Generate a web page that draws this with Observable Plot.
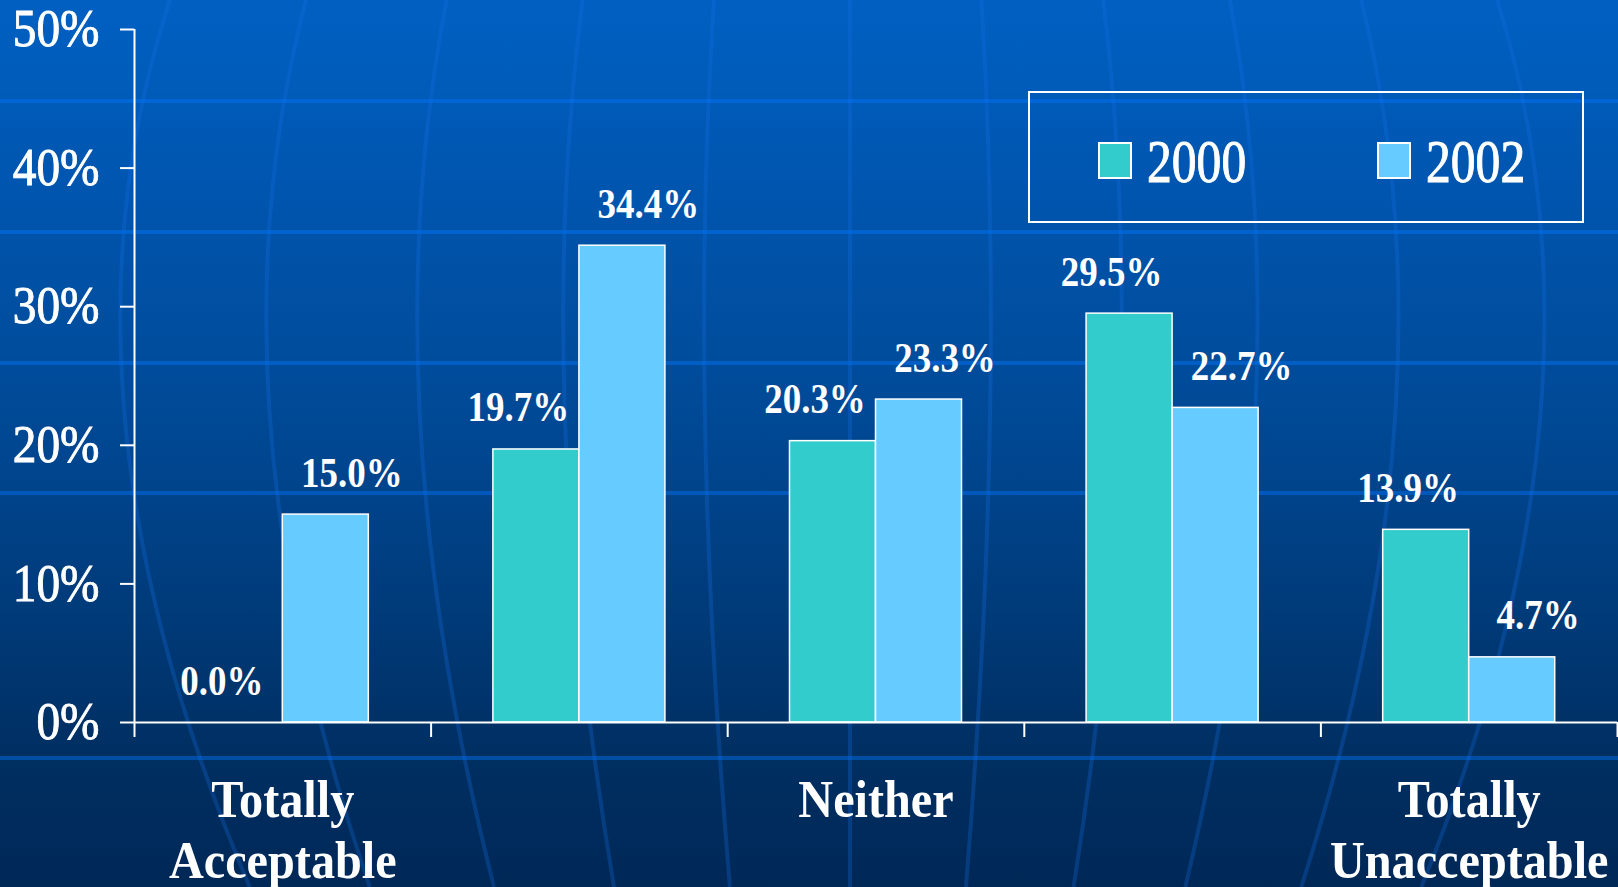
<!DOCTYPE html>
<html>
<head>
<meta charset="utf-8">
<script src="https://cdn.jsdelivr.net/npm/d3@7"></script>
<script src="https://cdn.jsdelivr.net/npm/@observablehq/plot@0.6"></script>
<style>
  html, body { margin: 0; padding: 0; }
  body {
    width: 1618px; height: 887px; overflow: hidden; position: relative;
    background: linear-gradient(to bottom, #0060c2 0%, #0056b0 20%, #004a98 45%, #003a78 70%, #002f62 85%, #002857 100%);
    font-family: "Liberation Serif", "Times New Roman", serif;
  }
  #deco, #chart, #legend { position: absolute; left: 0; top: 0; }
</style>
</head>
<body>
<div id="deco"></div>
<div id="chart"></div>
<div id="legend"></div>
<script>
// ---- data ----
const categories = ["Totally\nAcceptable", "", "Neither", "", "Totally\nUnacceptable"];
const years = ["2000", "2002"];
const values2000 = [0.0, 19.7, 20.3, 29.5, 13.9];
const values2002 = [15.0, 34.4, 23.3, 22.7, 4.7];
const yTicks = [0, 10, 20, 30, 40, 50];
const colors = ["#33CCCC", "#66CCFF"];

const rows = [];
categories.forEach((c, i) => {
  rows.push({i, year: years[0], value: values2000[i]});
  rows.push({i, year: years[1], value: values2002[i]});
});

// ---- background decoration (globe-like lines) ----
(function () {
  const W = 1618, H = 887;
  const hLines = [101, 232, 363, 493, 758];
  const mids = [125, 270, 420, 565, 705, 850, 990, 1120, 1255, 1395, 1540];
  const c = 850;
  let s = `<svg xmlns="http://www.w3.org/2000/svg" width="${W}" height="${H}">`;
  for (const m of mids) {
    const x0 = m - (m - c) * 0.062, x2 = m - (m - c) * 0.172;
    const cx = 2 * m - 0.5 * (x0 + x2);
    s += `<path d="M${x0},0 Q${cx},396 ${x2},${H}" fill="none" stroke="rgba(20,110,230,0.28)" stroke-width="4"/>`;
  }
  for (const y of hLines) {
    s += `<line x1="0" x2="${W}" y1="${y}" y2="${y}" stroke="rgba(0,120,255,0.42)" stroke-width="4"/>`;
  }
  s += `</svg>`;
  document.getElementById("deco").innerHTML = s;
})();

// ---- chart ----
const hw = 0.29; // half of a group's bar span, as a fraction of a category
const plot = Plot.plot({
  width: 1618,
  height: 887,
  marginLeft: 134,
  marginRight: 1,
  marginTop: 29,
  marginBottom: 165,
  style: {background: "transparent", color: "white", fontFamily: "'Liberation Serif', serif", overflow: "visible"},
  x: {domain: [0, categories.length], axis: null},
  y: {domain: [0, 50], axis: null},
  color: {domain: years, range: colors},
  marks: [
    Plot.rectY(rows, {
      x1: d => d.year === years[0] ? d.i + 0.5 - hw : d.i + 0.5,
      x2: d => d.year === years[0] ? d.i + 0.5 : d.i + 0.5 + hw,
      y: "value", fill: "year", stroke: "white", strokeWidth: 1.5
    }),
    Plot.ruleX([0], {stroke: "white", strokeWidth: 2}),
    Plot.ruleY([0], {stroke: "white", strokeWidth: 2}),
    Plot.axisY({ticks: yTicks, tickFormat: d => d + "%", tickSize: 14, tickPadding: 21,
      fontSize: 52, stroke: "white", strokeWidth: 2, fill: "white", label: null}),
    Plot.axisX({ticks: d3.range(categories.length + 1), tickFormat: () => "", tickSize: 15,
      stroke: "white", strokeWidth: 2, label: null}),
    Plot.text(categories, {
      x: (d, i) => i + 0.5, y: () => 0, text: d => d,
      lineAnchor: "top", dy: 52, lineHeight: 1.14,
      fontSize: 53, fontWeight: "bold", fill: "white", ariaDescription: "cat-labels"
    }),
    Plot.text(rows.filter(d => d.year === years[0]), {
      x: d => d.i + 0.5 - hw / 2, y: "value", text: d => d.value.toFixed(1) + "%",
      lineAnchor: "bottom", dy: -28, dx: -18,
      fontSize: 43, fontWeight: "bold", fill: "white", ariaDescription: "val-labels"
    }),
    Plot.text(rows.filter(d => d.year === years[1]), {
      x: d => d.i + 0.5 + hw / 2, y: "value", text: d => d.value.toFixed(1) + "%",
      lineAnchor: "bottom", dy: -28, dx: 26,
      fontSize: 43, fontWeight: "bold", fill: "white", ariaDescription: "val-labels"
    })
  ]
});
document.getElementById("chart").appendChild(plot);

// condense text horizontally (original typeface is narrow)
function condense(sel, k, thicken) {
  plot.querySelectorAll(sel).forEach(t => {
    const tr = t.getAttribute("transform") || "";
    t.setAttribute("transform", tr + ` scale(${k},1)`);
    if (thicken) {
      t.setAttribute("stroke", "white");
      t.setAttribute("stroke-width", thicken);
    }
  });
}
condense('g[aria-label="y-axis tick label"] text', 0.91, 0.9);
condense('g[aria-description="cat-labels"] text', 0.91, 0);
condense('g[aria-description="val-labels"] text', 0.86, 0);

// ---- legend ----
(function () {
  const svg = d3.select("#legend").append("svg")
    .attr("width", 1618).attr("height", 887)
    .style("font-family", "'Liberation Serif', serif");
  svg.append("rect").attr("x", 1029).attr("y", 92).attr("width", 554).attr("height", 130)
    .attr("fill", "none").attr("stroke", "white").attr("stroke-width", 2);
  const itemX = [1099, 1378];
  years.forEach((y, j) => {
    svg.append("rect").attr("x", itemX[j]).attr("y", 143).attr("width", 32).attr("height", 35)
      .attr("fill", colors[j]).attr("stroke", "white").attr("stroke-width", 2);
    svg.append("text")
      .attr("transform", `translate(${itemX[j] + 48},182) scale(0.8,1)`)
      .attr("fill", "white").attr("stroke", "white").attr("stroke-width", 1)
      .attr("font-size", 62).text(y);
  });
})();
</script>
</body>
</html>
